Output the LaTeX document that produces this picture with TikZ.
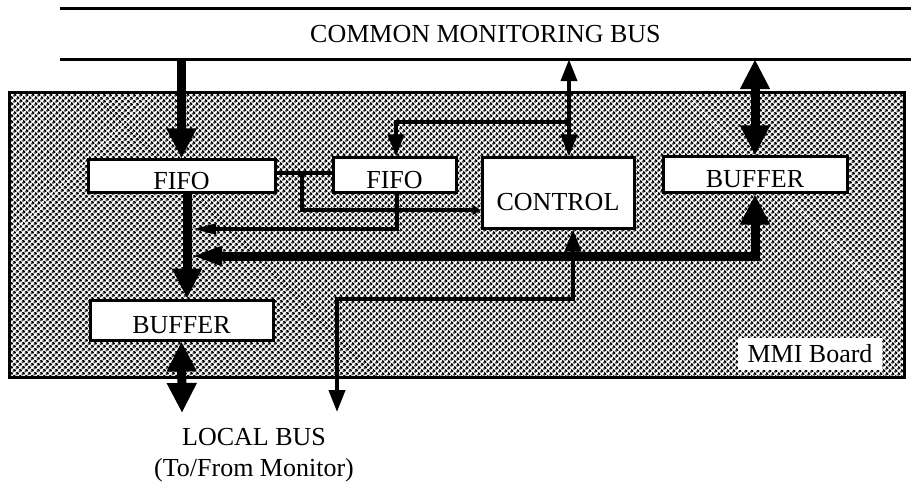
\documentclass[tikz,border=0pt]{standalone}
\usepackage{fontspec}
\setmainfont{Liberation Serif}
\usetikzlibrary{arrows.meta, patterns.meta}

\tikzset{
  bigtip/.tip  = {Triangle[width=28pt, length=30pt]},
  sidetip/.tip = {Triangle[width=18pt, length=30pt]},
  thintip/.tip = {Triangle[width=16pt, length=22pt]},
  slimtip/.tip = {Triangle[width=10pt, length=24pt]}
}

\begin{document}
\begin{tikzpicture}[
  x = 1pt, y = -1pt,
  every node/.style = {font=\fontsize{26}{31}\selectfont},
  blk/.style   = {draw, line width=3pt, fill=white, inner sep=0pt,
                  text height=26pt, text depth=0pt},
  board/.style = {draw, line width=3pt, inner sep=0pt,
                  pattern={Dots[distance=4pt, radius=1.65pt, angle=45]}},
  fat/.style   = {line width=9pt},
  wire/.style  = {line width=4pt}
]
\useasboundingbox (0,0) rectangle (911,492);

% Board and bus
\node[board, minimum width=895pt, minimum height=284pt] (brd) at (456.5,235) {};
\node[minimum width=851pt, minimum height=50pt, inner sep=0pt] (bus) at (485.5,34)
  {COMMON MONITORING BUS};
\draw[line width=3pt] (bus.north west) -- (bus.north east);
\draw[line width=3pt] (bus.south west) -- (bus.south east);

% Nodes
\node[blk, minimum width=187pt, minimum height=33pt] (fifoA) at (181.5,176.5) {FIFO};
\node[blk, minimum width=123pt, minimum height=35pt] (fifoB) at (394.5,175.5) {FIFO};
\node[blk, minimum width=152pt, minimum height=70pt, text height=36pt] (ctrl) at (558,193) {CONTROL};
\node[blk, minimum width=184pt, minimum height=36pt] (bufR) at (755,175) {BUFFER};
\node[blk, minimum width=183pt, minimum height=40pt] (bufL) at (181.5,320) {BUFFER};
\node[fill=white, minimum width=144pt, minimum height=32pt, inner sep=0pt] (mmi) at (810,354) {MMI Board};
\node[align=center] (local) at (254,455) {LOCAL BUS\\(To/From Monitor)};

% Junctions
\coordinate (ctlN) at ([xshift=11pt]ctrl.north);
\coordinate (ctlS) at ([xshift=15pt]ctrl.south);
\coordinate (brk)  at (569,122);
\coordinate (tee)  at (302,173.5);
\coordinate (jF)   at (192,229);
\coordinate (jH)   at (192,256);
\coordinate (lbus) at (337,412);
\coordinate (lbusB) at (182,413);

% Arrows
\draw[fat, -bigtip] (fifoA.north |- bus.south) -- (fifoA.north);
\draw[fat, -bigtip] ([xshift=5.5pt]fifoA.south) -- ([xshift=5.5pt]bufL.north);
\draw[fat, sidetip-bigtip] (jH) -| (bufR.south);
\draw[fat, bigtip-bigtip] (bufR.north |- bus.south) -- (bufR.north);
\draw[fat, bigtip-bigtip] (bufL.south) -- (lbusB);

\draw[wire, thintip-thintip] (ctlN |- bus.south) -- (ctlN);
\draw[wire, -thintip] (brk) -| ([xshift=1.5pt]fifoB.north);
\draw[wire] ([yshift=3pt]fifoA.east) -- ([yshift=2pt]fifoB.west);
\draw[wire, -{Triangle[width=10pt, length=8pt]}] (tee) |- ([yshift=-17pt]ctrl.west);
\draw[wire, -slimtip] ([xshift=2.5pt]fifoB.south) |- (jF);
\draw[wire, thintip-thintip] (ctlS) |- (lbus |- bufL.north) -- (lbus);
\end{tikzpicture}
\end{document}
